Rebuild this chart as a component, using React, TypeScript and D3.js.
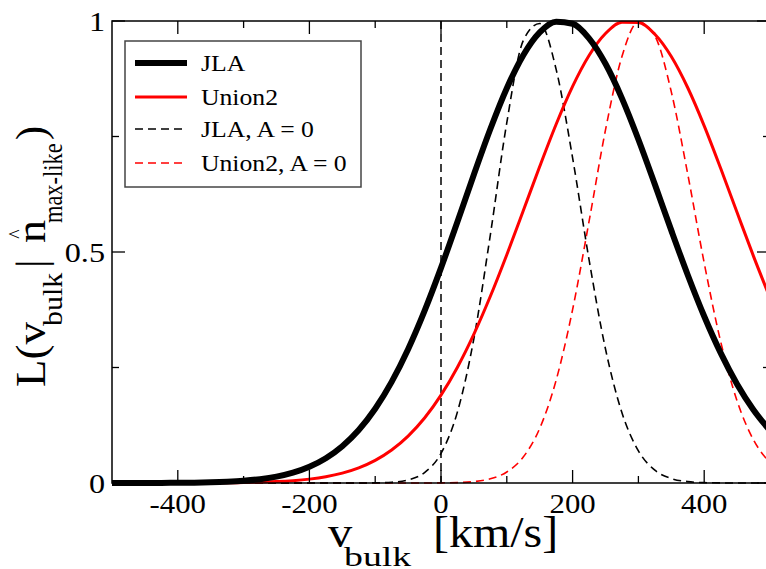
import React from 'react';
import * as d3 from 'd3';

// v_bulk grid [km/s]
const VBULK = [-500, -475, -450, -425, -400, -375, -350, -325, -300, -275, -250, -225, -200, -175, -150, -125, -100, -75, -50, -25, 0, 25, 50, 75, 100, 125, 150, 175, 200, 225, 250, 275, 300, 325, 350, 375, 400, 425, 450, 475, 500];

const L_JLA = [0.0, 0.0001, 0.0001, 0.0002, 0.0004, 0.0008, 0.0015, 0.0028, 0.0049, 0.0083, 0.0138, 0.0224, 0.0352, 0.0536, 0.0796, 0.1147, 0.1607, 0.2189, 0.2896, 0.3725, 0.4656, 0.5655, 0.6678, 0.7662, 0.8545, 0.926, 0.9754, 0.9985, 0.994, 0.9625, 0.9074, 0.8326, 0.7436, 0.6464, 0.5468, 0.4503, 0.3609, 0.2816, 0.2138, 0.158, 0.1136];

const L_UNION2 = [0, 0, 0, 0, 0.0001, 0.0001, 0.0003, 0.0005, 0.001, 0.0017, 0.003, 0.0051, 0.0084, 0.0135, 0.0213, 0.0327, 0.0489, 0.0713, 0.1014, 0.1406, 0.1901, 0.2507, 0.3223, 0.4042, 0.4942, 0.5892, 0.685, 0.7766, 0.8585, 0.9254, 0.9728, 0.9971, 0.9966, 0.9713, 0.9231, 0.8555, 0.7731, 0.6812, 0.5854, 0.4905, 0.4007];

const L_JLA_A0 = [0, 0, 0, 0, 0, 0, 0, 0, 0, 0, 0, 0, 0, 0, 0, 0, 0.0004, 0.0017, 0.0067, 0.0225, 0.0641, 0.154, 0.3128, 0.5373, 0.78, 0.9574, 0.9947, 0.8952, 0.7038, 0.4833, 0.29, 0.152, 0.0696, 0.0278, 0.0097, 0.003, 0.0008, 0.0002, 0, 0, 0];

const L_UNION2_A0 = [0, 0, 0, 0, 0, 0, 0, 0, 0, 0, 0, 0, 0, 0, 0, 0, 0, 0, 0, 0, 0.0003, 0.0009, 0.0031, 0.0091, 0.0239, 0.0561, 0.1181, 0.2226, 0.3753, 0.5661, 0.7642, 0.9231, 0.9978, 0.9677, 0.8467, 0.6685, 0.4763, 0.3062, 0.1776, 0.093, 0.0439];

const X_MAJOR = [-400, -200, 0, 200, 400];
const X_MINOR = [-300, -100, 100, 300];
const Y_MAJOR = [0, 0.5, 1];
const Y_MINOR = [0.25, 0.75];
const Y_LABELS = ['0', '0.5', '1'];

const SERIES = [
  { name: 'JLA', values: L_JLA, color: '#000000', width: 6, dash: null as string | null },
  { name: 'Union2', values: L_UNION2, color: '#ff0000', width: 3, dash: null as string | null },
  { name: 'JLA, A = 0', values: L_JLA_A0, color: '#000000', width: 1.6, dash: '8,5' },
  { name: 'Union2, A = 0', values: L_UNION2_A0, color: '#ff0000', width: 1.6, dash: '8,5' },
];

const FF = 'Liberation Serif';
const TS: React.CSSProperties = { fontFamily: '"Liberation Serif"' };

export default function App() {
  const W = 766;
  const H = 569;
  const x = d3.scaleLinear().domain([-500, 500]).range([112, 770]);
  const y = d3.scaleLinear().domain([0, 1]).range([483, 21]);
  const line = d3
    .line<[number, number]>()
    .x((d) => x(d[0]))
    .y((d) => y(d[1]))
    .curve(d3.curveMonotoneX);

  const x0 = x(-500);
  const x1 = x(500);
  const y0 = y(0);
  const y1 = y(1);
  const majorLen = 13;
  const minorLen = 7;

  const legendY = [63, 97, 129, 163];

  return (
    <svg
      width={W}
      height={H}
      style={{ position: 'absolute', left: 0, top: 0, background: '#fff', fontFamily: '"Liberation Serif"' }}
    >
      <defs>
        <clipPath id="plotclip">
          <rect x={x0} y={0} width={x1 - x0} height={H} />
        </clipPath>
      </defs>
      <rect x={0} y={0} width={W} height={H} fill="#fff" />

      {/* vertical dashed line at v=0 */}
      <line x1={x(0)} x2={x(0)} y1={y1} y2={y0} stroke="#000" strokeWidth={1.5} strokeDasharray="8,5" />

      {/* curves */}
      <g clipPath="url(#plotclip)">
        {SERIES.slice().reverse().map((s) => (
          <path
            key={s.name}
            d={line(VBULK.map((v, i) => [v, s.values[i]] as [number, number])) || ''}
            fill="none"
            stroke={s.color}
            strokeWidth={s.width}
            strokeDasharray={s.dash || undefined}
            strokeLinejoin="round"
          />
        ))}
      </g>

      {/* frame */}
      <rect x={x0} y={y1} width={x1 - x0} height={y0 - y1} fill="none" stroke="#000" strokeWidth={1.5} />

      {/* x ticks */}
      {X_MAJOR.map((v) => (
        <g key={'xM' + v}>
          <line x1={x(v)} x2={x(v)} y1={y0} y2={y0 - majorLen} stroke="#000" strokeWidth={1.3} />
          <line x1={x(v)} x2={x(v)} y1={y1} y2={y1 + majorLen} stroke="#000" strokeWidth={1.3} />
          <text
            fontFamily={FF}
            style={TS}
            transform={`translate(${x(v)},513) scale(1.1,1)`}
            textAnchor="middle"
            fontSize={28}
            fill="#000"
          >
            {String(v)}
          </text>
        </g>
      ))}
      {X_MINOR.map((v) => (
        <g key={'xm' + v}>
          <line x1={x(v)} x2={x(v)} y1={y0} y2={y0 - minorLen} stroke="#000" strokeWidth={1.3} />
          <line x1={x(v)} x2={x(v)} y1={y1} y2={y1 + minorLen} stroke="#000" strokeWidth={1.3} />
        </g>
      ))}

      {/* y ticks */}
      {Y_MAJOR.map((v, i) => (
        <g key={'yM' + v}>
          <line x1={x0} x2={x0 + majorLen} y1={y(v)} y2={y(v)} stroke="#000" strokeWidth={1.3} />
          <line x1={x1} x2={x1 - majorLen} y1={y(v)} y2={y(v)} stroke="#000" strokeWidth={1.3} />
          <text
            fontFamily={FF}
            style={TS}
            transform={`translate(105,${y(v) + 10}) scale(1.15,1)`}
            textAnchor="end"
            fontSize={28}
            fill="#000"
          >
            {Y_LABELS[i]}
          </text>
        </g>
      ))}
      {Y_MINOR.map((v) => (
        <g key={'ym' + v}>
          <line x1={x0} x2={x0 + minorLen} y1={y(v)} y2={y(v)} stroke="#000" strokeWidth={1.3} />
          <line x1={x1} x2={x1 - minorLen} y1={y(v)} y2={y(v)} stroke="#000" strokeWidth={1.3} />
        </g>
      ))}

      {/* x axis title */}
      <text fontFamily={FF} style={TS} transform="translate(328,547) scale(1.1,1)" fontSize={44} fill="#000">v</text>
      <text fontFamily={FF} style={TS} transform="translate(344,566) scale(1.35,1)" fontSize={28} fill="#000">bulk</text>
      <text fontFamily={FF} style={TS} transform="translate(433,547) scale(1.09,1)" fontSize={44} fill="#000">[km/s]</text>

      {/* y axis title (rotated) */}
      <text fontFamily={FF} style={TS} transform="translate(45,387) rotate(-90) scale(1.07,1)" fontSize={42} fill="#000">L(v</text>
      <text fontFamily={FF} style={TS} transform="translate(62,326) rotate(-90) scale(1.07,1)" fontSize={28} fill="#000">bulk</text>
      <text fontFamily={FF} style={TS} transform="translate(45,268) rotate(-90)" fontSize={42} fill="#000">|</text>
      <text fontFamily={FF} style={TS} transform="translate(45,243) rotate(-90) scale(1.1,1)" fontSize={42} fill="#000">n</text>
      <text fontFamily={FF} style={TS} transform="translate(23,234) rotate(-90)" fontSize={20} fill="#000" textAnchor="middle">^</text>
      <text fontFamily={FF} style={TS} transform="translate(62,223) rotate(-90) scale(0.8,1)" fontSize={28} fill="#000">max-like</text>
      <text fontFamily={FF} style={TS} transform="translate(45,140) rotate(-90)" fontSize={42} fill="#000">)</text>

      {/* legend */}
      <rect x={125} y={41} width={236} height={146} fill="#fff" stroke="#444" strokeWidth={1.5} />
      {SERIES.map((s, i) => (
        <g key={'leg' + s.name}>
          <line
            x1={135}
            x2={187}
            y1={legendY[i]}
            y2={legendY[i]}
            stroke={s.color}
            strokeWidth={s.width}
            strokeDasharray={s.dash || undefined}
          />
          <text
            fontFamily={FF}
            style={TS}
            transform={`translate(201,${legendY[i] + 8}) scale(1.07,1)`}
            fontSize={24}
            fill="#000"
          >
            {s.name}
          </text>
        </g>
      ))}
    </svg>
  );
}
